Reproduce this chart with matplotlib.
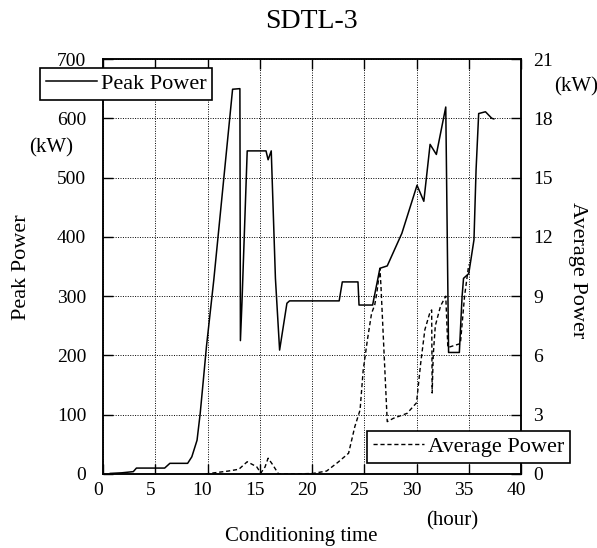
import matplotlib
matplotlib.use("Agg")
import matplotlib.pyplot as plt
from matplotlib.lines import Line2D
from matplotlib.transforms import ScaledTranslation

plt.rcParams["font.family"] = ["Liberation Serif", "DejaVu Serif"]

# peak power (kW) vs conditioning time (hour)
peak_t = [0.7, 1.8, 2.9, 3.2, 5.9, 6.4, 8.1, 8.5, 9.0, 9.3, 9.6, 9.9, 10.25, 10.6,
          12.4, 13.1, 13.15, 13.3, 13.8, 15.6, 15.8, 16.1, 16.5, 16.9, 17.6, 17.85,
          22.6, 22.9, 24.4, 24.5, 25.8, 26.5, 27.2, 28.6, 30.05, 30.7, 31.3, 31.9,
          32.8, 33.07, 34.1, 34.36, 34.5, 35.0, 35.5, 35.7, 35.95, 36.6, 37.2, 37.4]
peak_kw = [1, 2, 4, 10, 10, 18, 18, 29, 57, 102, 158, 215, 271, 327,
           649, 650, 225, 290, 545, 545, 530, 545, 330, 209, 288, 292,
           292, 324, 324, 285, 285, 347, 351, 406, 487, 460, 556, 539,
           619, 205, 205, 299, 330, 338, 395, 513, 608, 611, 600, 599]

# average power (kW)
avg_t = [9.8, 10.5, 12.0, 13.0, 13.8, 14.7, 15.1, 15.5, 15.8, 16.2, 16.8, 18.5,
         20.1, 21.4, 22.5, 23.5, 24.1, 24.6, 24.9, 25.3, 25.7, 26.0, 26.2, 26.5,
         26.6, 27.2, 27.8, 29.1, 30.0, 30.4, 30.8, 31.3, 31.45, 31.5, 31.6, 31.8,
         32.3, 32.8, 33.0, 34.2, 34.6, 35.0]
avg_kw = [0.0, 0.05, 0.15, 0.24, 0.62, 0.37, 0.05, 0.35, 0.8, 0.5, 0.0, 0.0,
          0.03, 0.15, 0.6, 1.05, 2.4, 3.24, 5.26, 6.78, 8.13, 8.55, 9.14, 10.4,
          9.5, 2.65, 2.82, 3.07, 3.6, 5.6, 7.3, 8.2, 8.3, 4.1, 6.0, 7.5,
          8.5, 9.0, 6.4, 6.6, 9.0, 10.6]

fig = plt.figure(figsize=(5.97, 5.48), dpi=100)
ax = fig.add_axes([103 / 597, 74 / 548, 418 / 597, 415 / 548])
ax2 = ax.twinx()

ax.plot(peak_t, peak_kw, color="black", lw=1.1)
ax2.plot(avg_t, avg_kw, color="black", lw=1.0, ls=(0, (3, 2)))

ax.set_xlim(0, 40)
ax.set_ylim(0, 700)
ax2.set_ylim(0, 21)
ax.set_xticks(range(0, 41, 5))
ax.set_yticks(range(0, 701, 100))
ax2.set_yticks(range(0, 22, 3))
ax.grid(True, color="black", ls=(0, (1, 1.5)), lw=0.7)

ax.tick_params(axis="both", direction="in", length=7, width=1, labelsize=14,
               top=True, right=False)
ax.tick_params(axis="y", pad=12)
ax.tick_params(axis="x", pad=6)
ax2.tick_params(axis="y", direction="in", length=7, width=1, labelsize=14, pad=9)
for a in (ax, ax2):
    for s in a.spines.values():
        s.set_linewidth(1.1)

# x tick labels sit a little left of their ticks in the original
shift = ScaledTranslation(-5 / 100, 0, fig.dpi_scale_trans)
for lbl in ax.get_xticklabels():
    lbl.set_transform(lbl.get_transform() + shift)

fig.text(311 / 597, 1 - 21 / 548, "SDTL-3", ha="center", va="center", fontsize=20)
fig.text(22 / 597, 1 - 267 / 548, "Peak Power", rotation=90, ha="center",
         va="center", fontsize=16)
fig.text(578 / 597, 1 - 270 / 548, "Average Power", rotation=-90, ha="center",
         va="center", fontsize=16)
fig.text(51 / 597, 1 - 148 / 548, "(kW)", ha="center", va="center", fontsize=15)
fig.text(576 / 597, 1 - 87 / 548, "(kW)", ha="center", va="center", fontsize=15)
fig.text(452 / 597, 1 - 521 / 548, "(hour)", ha="center", va="center", fontsize=15)
fig.text(301 / 597, 1 - 537 / 548, "Conditioning time", ha="center", va="center",
         fontsize=15)

leg_kw = dict(frameon=True, fancybox=False, edgecolor="black", framealpha=1,
              fontsize=16, borderaxespad=0, handlelength=2.3, handletextpad=0.2,
              borderpad=0.25)
l1 = fig.legend([Line2D([], [], color="black", lw=1.1)], ["Peak Power"],
                loc="upper left", bbox_to_anchor=(40 / 597, 1 - 68 / 548), **leg_kw)
l1.get_frame().set_linewidth(1.2)
l2 = fig.legend([Line2D([], [], color="black", lw=1.0, ls=(0, (3, 2)))],
                ["Average Power"], loc="upper left",
                bbox_to_anchor=(367 / 597, 1 - 431 / 548), **leg_kw)
l2.get_frame().set_linewidth(1.2)

fig.savefig("out.png", dpi=100)
